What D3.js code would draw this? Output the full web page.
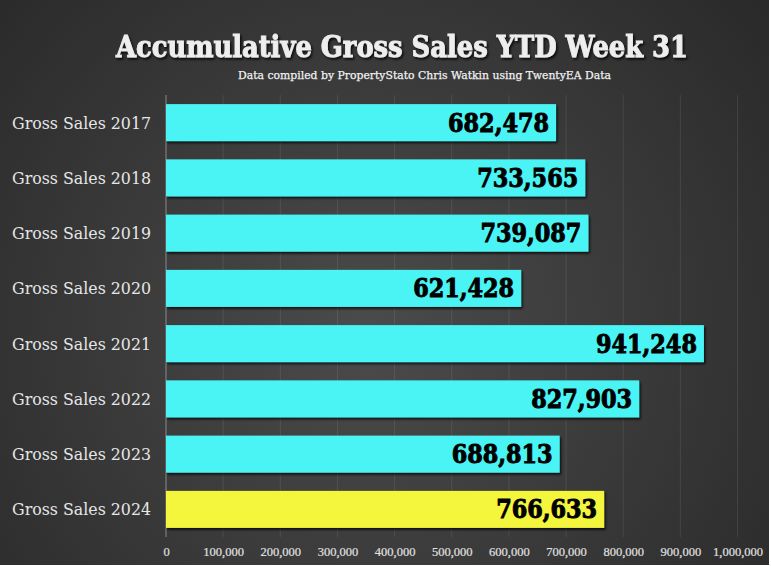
<!DOCTYPE html>
<html>
<head>
<meta charset="utf-8">
<script src="https://cdn.jsdelivr.net/npm/d3@7"></script>
<style>
  html, body { margin: 0; padding: 0; background: #fff; }
  svg { display: block; }
</style>
</head>
<body>
<div id="chart"></div>
<script>
// ---------------------------------------
// 1. Data
// ---------------------------------------
const categories = [
  "Gross Sales 2017", "Gross Sales 2018", "Gross Sales 2019", "Gross Sales 2020",
  "Gross Sales 2021", "Gross Sales 2022", "Gross Sales 2023", "Gross Sales 2024"
];
const salesValues = [682478, 733565, 739087, 621428, 941248, 827903, 688813, 766633];
const highlighted = ["Gross Sales 2024"];
const tickValues = [0, 100000, 200000, 300000, 400000, 500000, 600000, 700000, 800000, 900000, 1000000];

const titleText = "Accumulative Gross Sales YTD Week 31";
const subtitleText = "Data compiled by PropertyStato Chris Watkin using TwentyEA Data";

const rows = categories.map((c, i) => ({ name: c, value: salesValues[i] }));

// ---------------------------------------
// 2. SVG + background
// ---------------------------------------
const width = 771;
const height = 566;

const svg = d3.select("#chart")
  .append("svg")
  .attr("width", width)
  .attr("height", height);

const defs = svg.append("defs");

const bg = defs.append("radialGradient")
  .attr("id", "bg")
  .attr("gradientUnits", "userSpaceOnUse")
  .attr("cx", 370).attr("cy", 330).attr("r", 520);
bg.append("stop").attr("offset", "0%").attr("stop-color", "#4b4b4b");
bg.append("stop").attr("offset", "100%").attr("stop-color", "#292929");

// shadow for bars
defs.append("filter").attr("id", "barShadow")
  .attr("x", "-5%").attr("y", "-20%").attr("width", "110%").attr("height", "150%")
  .append("feDropShadow")
  .attr("dx", 1.5).attr("dy", 2).attr("stdDeviation", 1.2)
  .attr("flood-color", "#000").attr("flood-opacity", 0.75);

// shadow for title text
defs.append("filter").attr("id", "textShadow")
  .append("feDropShadow")
  .attr("dx", 1.5).attr("dy", 2).attr("stdDeviation", 1.2)
  .attr("flood-color", "#000").attr("flood-opacity", 0.8);

svg.append("rect")
  .attr("width", 769)
  .attr("height", 565)
  .attr("fill", "url(#bg)");

// ---------------------------------------
// 3. Scales
// ---------------------------------------
const x = d3.scaleLinear()
  .domain([0, 1000000])
  .range([166, 737.5]);

const y = d3.scaleBand()
  .domain(categories)
  .range([95, 537])
  .paddingInner(0.33)
  .paddingOuter(0.165);

// ---------------------------------------
// 4. Gridlines + axis
// ---------------------------------------
svg.append("g")
  .selectAll("line")
  .data(tickValues.slice(1))
  .enter()
  .append("line")
  .attr("x1", d => x(d)).attr("x2", d => x(d))
  .attr("y1", 95).attr("y2", 537)
  .attr("stroke", "#ffffff")
  .attr("stroke-opacity", 0.09)
  .attr("stroke-width", 1);

svg.append("line")
  .attr("x1", x(0)).attr("x2", x(0))
  .attr("y1", 95).attr("y2", 537)
  .attr("stroke", "#8a8a8a")
  .attr("stroke-width", 1);

const xAxis = svg.append("g")
  .attr("transform", "translate(0,537)")
  .call(d3.axisBottom(x)
    .tickValues(tickValues)
    .tickFormat(d3.format(","))
    .tickSize(0)
    .tickPadding(10));

xAxis.select(".domain").remove();
xAxis.selectAll("text")
  .attr("fill", "#e0e0e0")
  .attr("stroke", "#e0e0e0")
  .attr("stroke-width", 0.2)
  .style("font-family", "'Liberation Serif', serif")
  .style("font-size", "12.5px");

// ---------------------------------------
// 5. Bars
// ---------------------------------------
svg.append("g")
  .selectAll("rect")
  .data(rows)
  .enter()
  .append("rect")
  .attr("x", x(0))
  .attr("y", d => y(d.name))
  .attr("width", d => x(d.value) - x(0))
  .attr("height", y.bandwidth())
  .attr("fill", d => highlighted.includes(d.name) ? "#f4f53d" : "#4cf4f4")
  .attr("filter", "url(#barShadow)");

// value labels inside the bar end
svg.append("g")
  .selectAll("text")
  .data(rows)
  .enter()
  .append("text")
  .attr("x", d => x(d.value) - 7)
  .attr("y", d => y(d.name) + y.bandwidth() / 2 + 9)
  .attr("text-anchor", "end")
  .attr("textLength", 101)
  .attr("lengthAdjust", "spacingAndGlyphs")
  .attr("fill", "#000")
  .attr("stroke", "#000")
  .attr("stroke-width", 0.9)
  .style("font-family", "'DejaVu Serif Condensed', 'DejaVu Serif', serif")
  .style("font-weight", "bold")
  .style("font-size", "26px")
  .text(d => d3.format(",")(d.value));

// category labels
svg.append("g")
  .selectAll("text")
  .data(rows)
  .enter()
  .append("text")
  .attr("x", 151)
  .attr("y", d => y(d.name) + y.bandwidth() / 2 + 6)
  .attr("text-anchor", "end")
  .attr("textLength", 139)
  .attr("lengthAdjust", "spacingAndGlyphs")
  .attr("fill", "#e6e6e6")
  .style("font-family", "'DejaVu Serif', serif")
  .style("font-size", "16px")
  .text(d => d.name);

// ---------------------------------------
// 6. Titles
// ---------------------------------------
svg.append("text")
  .attr("x", 402)
  .attr("y", 57)
  .attr("text-anchor", "middle")
  .attr("textLength", 572)
  .attr("lengthAdjust", "spacingAndGlyphs")
  .attr("fill", "#eeeeee")
  .attr("stroke", "#eeeeee")
  .attr("stroke-width", 0.9)
  .attr("filter", "url(#textShadow)")
  .style("font-family", "'DejaVu Serif', serif")
  .style("font-weight", "bold")
  .style("font-size", "29px")
  .text(titleText);

svg.append("text")
  .attr("x", 424.5)
  .attr("y", 79)
  .attr("text-anchor", "middle")
  .attr("textLength", 373)
  .attr("lengthAdjust", "spacingAndGlyphs")
  .attr("fill", "#f2f2f2")
  .attr("stroke", "#f2f2f2")
  .attr("stroke-width", 0.25)
  .style("font-family", "'DejaVu Serif', serif")
  .style("font-size", "11.5px")
  .text(subtitleText);
</script>
</body>
</html>
